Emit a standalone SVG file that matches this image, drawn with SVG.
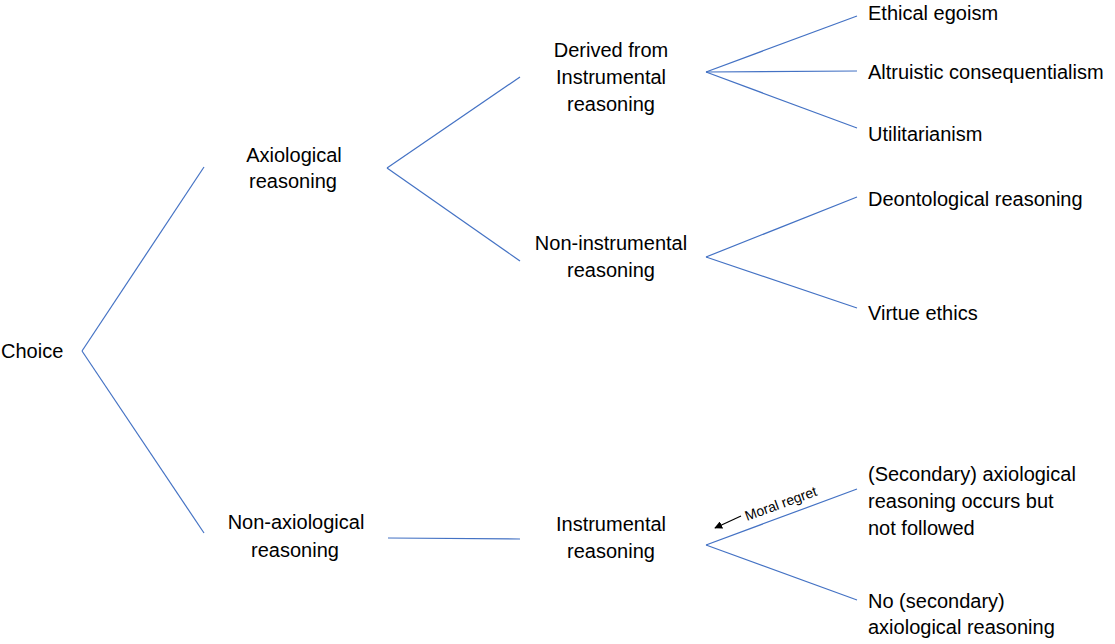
<svg xmlns="http://www.w3.org/2000/svg" width="1115" height="644" viewBox="0 0 1115 644">
<style>
text{font-family:"Liberation Sans",Arial,sans-serif;font-size:20px;fill:#000}
.c{text-anchor:middle}
.e line{stroke:#4472C4;stroke-width:1.2;fill:none}
.sm{font-size:14px}
</style>
<defs>
<marker id="ah" viewBox="0 0 10 10" refX="9" refY="5" markerWidth="8" markerHeight="8" orient="auto" markerUnits="userSpaceOnUse"><path d="M0,0L10,5L0,10z" fill="#000"/></marker>
</defs>
<rect width="1115" height="644" fill="#fff"/>
<g id="connectors" class="e">
<line x1="82" y1="351" x2="204" y2="167"/>
<line x1="82" y1="351" x2="204" y2="533"/>
<line x1="387" y1="168" x2="520" y2="77"/>
<line x1="387" y1="168" x2="520" y2="261"/>
<line x1="388" y1="538" x2="520" y2="539"/>
<line x1="706" y1="72" x2="857" y2="16"/>
<line x1="706" y1="72" x2="857" y2="71"/>
<line x1="706" y1="72" x2="857" y2="128"/>
<line x1="706" y1="257" x2="857" y2="197"/>
<line x1="706" y1="257" x2="857" y2="308"/>
<line x1="706" y1="545" x2="857" y2="489"/>
<line x1="706" y1="545" x2="857" y2="600"/>
</g>
<g id="moral-regret">
<line x1="741" y1="516" x2="715" y2="528" stroke="#000" stroke-width="1.2" marker-end="url(#ah)"/>
<text class="sm" transform="translate(747,521) rotate(-20)">Moral regret</text>
</g>
<g id="choice"><text x="1" y="358">Choice</text></g>
<g id="axiological"><text class="c" x="294" y="162">Axiological</text><text class="c" x="293" y="188">reasoning</text></g>
<g id="non-axiological"><text class="c" x="296" y="529">Non-axiological</text><text class="c" x="295" y="557">reasoning</text></g>
<g id="derived"><text class="c" x="611" y="57">Derived from</text><text class="c" x="611" y="84">Instrumental</text><text class="c" x="611" y="111">reasoning</text></g>
<g id="non-instrumental"><text class="c" x="611" y="250">Non-instrumental</text><text class="c" x="611" y="277">reasoning</text></g>
<g id="instrumental"><text class="c" x="611" y="531">Instrumental</text><text class="c" x="611" y="558">reasoning</text></g>
<g id="ethical-egoism"><text x="868" y="20">Ethical egoism</text></g>
<g id="altruistic"><text x="868" y="79">Altruistic consequentialism</text></g>
<g id="utilitarianism"><text x="868" y="141">Utilitarianism</text></g>
<g id="deontological"><text x="868" y="206">Deontological reasoning</text></g>
<g id="virtue"><text x="868" y="320">Virtue ethics</text></g>
<g id="secondary-occurs"><text x="868" y="481">(Secondary) axiological</text><text x="868" y="508">reasoning occurs but</text><text x="868" y="535">not followed</text></g>
<g id="no-secondary"><text x="868" y="608">No (secondary)</text><text x="868" y="634">axiological reasoning</text></g>
</svg>
